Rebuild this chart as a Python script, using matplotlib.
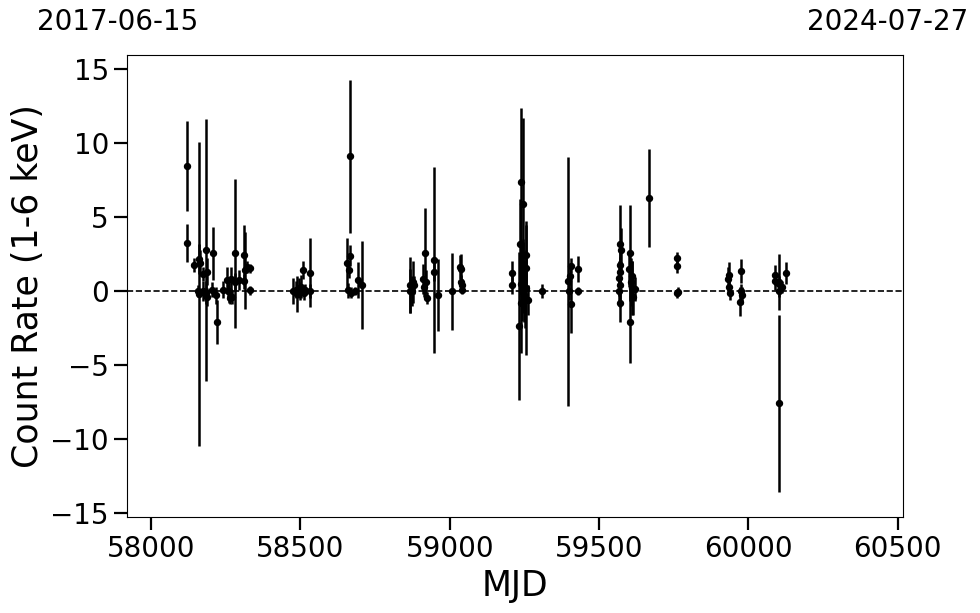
import numpy as np
import matplotlib
matplotlib.use('Agg')
import matplotlib.pyplot as plt

# light curve (MJD, count rate 1-6 keV, 1 sigma error)
mjd = [58121, 58120, 58144, 58159, 58161, 58165, 58158, 58172, 58173, 58184,
       58186, 58182, 58188, 58206, 58205, 58220, 58216, 58240, 58253, 58256,
       58260, 58264, 58266, 58271, 58281, 58281, 58295, 58312, 58312, 58315,
       58320, 58331, 58332,
       58476, 58485, 58490, 58495, 58500, 58503, 58508, 58512, 58515, 58531, 58531,
       58655, 58665, 58665, 58663, 58660, 58668, 58682, 58692, 58705,
       58866, 58866, 58877, 58875, 58880, 58916, 58910, 58919, 58914, 58923,
       58946, 58946, 58962, 59009, 59033, 59039, 59038, 59040, 59041,
       59210, 59210, 59237, 59244, 59235, 59233, 59255, 59254, 59254, 59261,
       59240, 59238, 59242, 59246, 59248, 59250, 59252, 59244, 59309,
       59397, 59406, 59403, 59399, 59407, 59430, 59430,
       59570, 59572, 59569, 59571, 59568, 59571, 59568, 59569, 59603, 59601,
       59605, 59607, 59612, 59615, 59620, 59610, 59668,
       59761, 59761, 59763, 59761,
       59935, 59933, 59934, 59937, 59975, 59975, 59973, 59980,
       60089, 60089, 60102, 60112, 60102, 60102, 60102, 60125]
rate = [8.45, 3.24, 1.75, -0.2, 2.15, 1.9, 0.0, 0.0, 1.15, 2.77,
        1.3, -0.1, -0.4, 2.55, 0.1, -2.1, -0.3, 0.1, 0.75, 0.0,
        0.0, -0.5, 0.8, -0.4, 2.55, 0.63, 0.75, 2.43, 0.65, 1.4,
        1.64, 1.55, 0.05,
        0.0, 0.1, -0.2, 0.2, 0.0, 0.3, 1.4, -0.1, 0.1, 1.25, 0.0,
        1.9, 9.1, 2.4, 1.4, 0.05, -0.1, 0.0, 0.75, 0.4,
        0.4, 0.0, 0.6, 0.0, 0.4, 2.6, 0.8, 0.6, 0.3, -0.45,
        2.1, 1.3, -0.27, 0.0, 1.64, 1.5, 0.6, 0.4, 0.1,
        1.2, 0.4, 7.4, 5.9, 3.2, -2.36, 0.2, 2.43, 1.55, -0.6,
        -0.8, 0.5, 0.0, 1.0, -0.3, 0.3, -0.5, 1.8, 0.0,
        0.65, 1.7, 1.0, 0.0, -0.85, 1.5, 0.0,
        3.18, 2.77, 1.76, 1.3, 0.86, 0.4, 0.0, -0.79, 2.55, 1.5,
        -2.07, 0.6, 0.2, -0.4, 0.15, 1.0, 6.3,
        2.25, 1.69, -0.05, -0.15,
        1.08, 0.8, 0.25, -0.1, 1.35, 0.0, -0.72, -0.3,
        1.08, 0.65, 0.5, 0.3, 0.0, 0.6, -7.6, 1.24]
err = [3.05, 1.3, 0.45, 10.3, 1.0, 0.9, 0.4, 0.7, 0.5, 8.85,
       0.9, 0.8, 0.6, 1.8, 0.5, 1.5, 0.6, 0.6, 0.9, 0.5,
       0.8, 0.4, 0.8, 0.5, 5.05, 0.6, 0.7, 2.0, 0.5, 2.6,
       0.4, 0.3, 0.3,
       0.9, 0.6, 1.2, 0.7, 0.6, 0.8, 0.6, 0.5, 0.4, 2.3, 0.5,
       1.7, 5.15, 0.7, 0.5, 0.5, 0.4, 0.3, 1.2, 2.95,
       1.9, 1.5, 1.4, 1.0, 0.6, 3.0, 1.0, 0.8, 0.7, 0.4,
       6.3, 0.6, 2.45, 2.6, 0.8, 1.0, 0.5, 0.4, 0.3,
       0.8, 0.6, 5.0, 5.8, 3.0, 5.0, 4.5, 2.0, 1.2, 1.0,
       3.4, 1.5, 2.0, 2.5, 1.8, 1.2, 2.0, 1.5, 0.5,
       8.4, 0.5, 0.6, 0.6, 2.0, 0.9, 0.3,
       2.6, 1.5, 1.0, 1.0, 1.2, 1.5, 1.0, 1.3, 3.25, 1.2,
       2.77, 1.6, 1.8, 1.2, 0.8, 1.0, 3.3,
       0.4, 0.5, 0.3, 0.3,
       0.9, 0.8, 0.5, 0.5, 0.8, 0.5, 1.0, 0.6,
       0.7, 0.6, 0.5, 0.4, 0.4, 1.9, 5.95, 0.75]

xticks = [58000, 58500, 59000, 59500, 60000, 60500]
yticks = [-15, -10, -5, 0, 5, 10, 15]
start_label = '2017-06-15'
end_label = '2024-07-27'

fig = plt.figure(figsize=(9.8, 6.13), dpi=100)
ax = fig.add_axes([0.1296, 0.1566, 0.7918, 0.7537])

ax.errorbar(mjd, rate, yerr=err, fmt='o', color='k', ms=4.3, elinewidth=1.8, capsize=0)
ax.axhline(0, color='k', ls='--', lw=1.2)

ax.set_xlim(57919, 60518)
ax.set_ylim(-15.27, 15.95)
ax.set_xticks(xticks)
ax.set_yticks(yticks)
ax.tick_params(axis='both', labelsize=20, length=9.5, width=1.6)
ax.set_xlabel('MJD', fontsize=25)
ax.set_ylabel('Count Rate (1-6 keV)', fontsize=25)

fig.text(118 / 980, 1 - 22 / 613, start_label, fontsize=20, ha='center', va='center')
fig.text(888 / 980, 1 - 22 / 613, end_label, fontsize=20, ha='center', va='center')

plt.savefig('out.png', dpi=100)
